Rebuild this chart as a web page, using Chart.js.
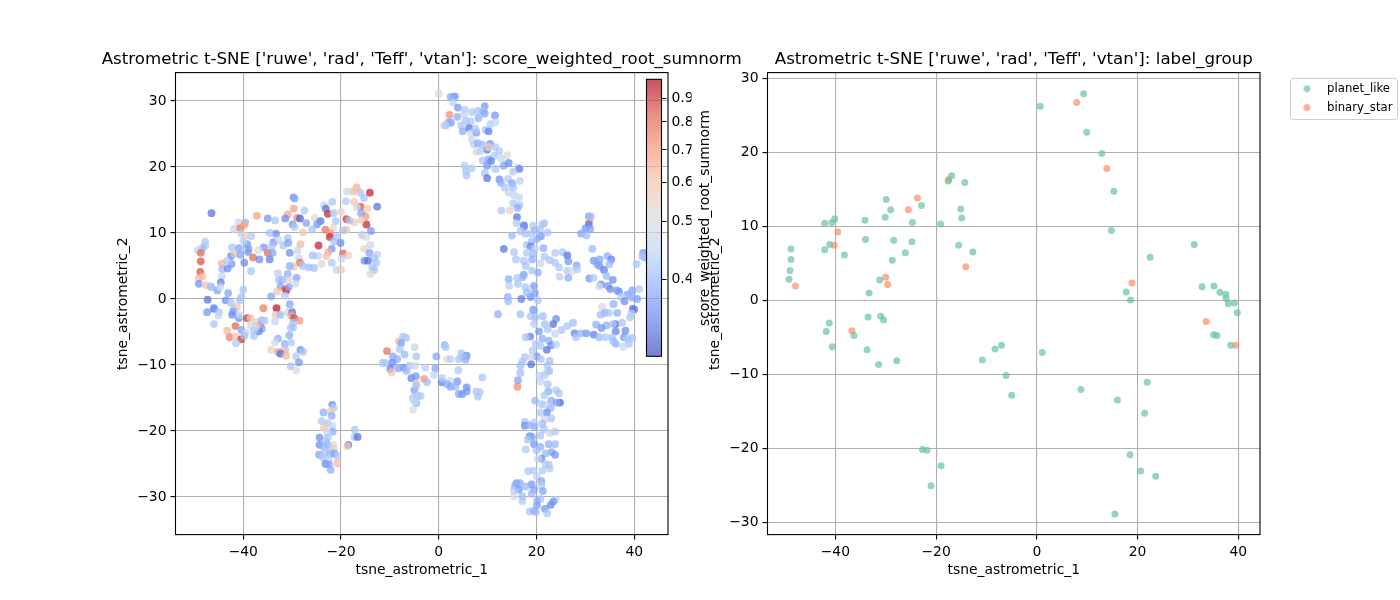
<!DOCTYPE html>
<html>
<head>
    <title>Astrometric t-SNE</title>
    <script src="https://cdn.jsdelivr.net/npm/chart.js@4/dist/chart.umd.js"></script>
    <style>
        body { margin: 0; background: #fff; }
        canvas { position: absolute; left: 0; top: 0; }
    </style>
</head>
<body>
    <canvas id="leftChart" width="1400" height="600"></canvas>
    <canvas id="cbarChart" width="1400" height="600"></canvas>
    <canvas id="rightChart" width="1400" height="600"></canvas>
    <script>
        // left panel: x, y and score of each star, same order in all three
        const scoreX = [
            -46.5,-37.2,-35,-33.5,-41,-41.9,-39.6,-40.6,-39.8,-29.7,
            -29.5,-29.7,-27.5,-30.9,-31.4,-29,-28.4,-29.9,-29.5,-27.1,
            -25.4,-24.2,-24.9,-25.9,-23.5,-23.1,-21.8,-22.7,-21.5,-21.6,
            -18.9,-15,-16,-14.6,-12.6,-14.1,-16,-15.3,-16.8,-17.5,
            -18.8,-19,-17.3,-16.8,-15.9,-17.3,-18.3,-14.8,-15.9,-20,
            -21.1,-23.2,-22.2,-22.3,-27.8,-33.3,-34.6,-30.9,-31.8,-30.8,
            -33.8,-32.7,-34.2,-35.8,-36.9,-35,-34,-30.5,-28.3,-28.9,
            -24.6,-20.9,-21.5,-20.1,-21.9,-19.6,-18.5,-22.6,-23,-24.7,
            -25.8,-19.8,-14,-15.3,-14.2,-12.6,-13.2,-15.2,-14.5,-12.8,
            -13.6,-13.2,-14,-15.7,-13.9,-14.8,-18.9,-19.6,-28.6,-28.4,
            -29.7,-27.8,-26.6,-25.5,-24,-21.9,-20.9,-20,-30.5,
            -47.8,-47.8,-48.4,-49.3,-48.7,-48.7,-48.8,-48.3,-49.1,-49.1,
            -47.7,-46.7,-44.4,-44.3,-43.2,-42.4,-42.5,-43.3,-42.3,-41.8,
            -40.9,-40.6,-39.8,-39.2,-38.9,-40,-40.4,-38.4,-39.6,-39,
            -38,-36.7,-34.6,-38.4,-44.4,-44.6,-46.5,-47.3,-45.3,-46,
            -44.7,-43.1,-43.6,-42.5,-41.9,-41.3,-40.4,-40,-40.7,-32.9,
            -30.9,-32.7,-29.1,-30.7,-32,-32.4,-29.3,-31.4,-31.2,-30.7,
            -33.1,-31.5,-34.3,
            -46,-47.4,-46,-45,-45.1,-42.1,-42.3,-40.9,-40.7,-39.2,
            -38.5,-35.9,-33.2,-33.4,-32.4,-30.5,-33.5,-30.9,-30,-30.2,
            -29.6,-28.5,-29.8,-29.8,-30.3,-30.6,-41.6,-40.4,-39.5,-43.3,
            -42.8,-41.5,-40.4,-41.5,-39.8,-37.8,-38.5,-37.3,-36.5,-36.2,
            -35.6,-36.2,-36.8,-37.8,-37.3,-32.9,-33.5,-31.5,-30.2,-31.4,
            -34.3,-32.9,-31.7,-32.4,-31.2,-28.3,-27.7,-29.2,-28.6,-30.3,-29.2,
            -21.8,-21.5,-23.6,-22.1,-21.9,-24,-22.7,-21.8,-23.5,-21.7,
            -22.8,-24.4,-22.7,-23.1,-21.5,-24.4,-22.8,-23.5,-22.3,-21.5,
            -24.5,-23.4,-22.2,-21.4,-20.8,-23.7,-22.5,-23.2,-22.5,-20.8,-22.1,
            -17.2,-17.2,-16.6,-18.5,-18.7,
            -10.6,-8.2,-7.3,-6.7,-7.7,-8,-7,-9.4,-8.5,-11.5,
            -10.9,-9.5,-9.9,-9.6,-7.1,-8.2,-6.6,-6,-4.9,-4.9,
            -4.6,-5.6,-4.7,-4.6,-5,-4.6,-4.3,-5.3,-4.6,-5,-5.3,
            0,2.9,3.3,2.4,2.9,3.9,5.3,2.2,3.8,5.2,
            6.8,8,9.4,9,9.4,11.5,8.1,6.5,5.5,2,
            2.5,1.1,1.5,4.6,4.9,6.2,6.5,7.7,7.5,9.6,
            10.2,10.6,11.6,6.8,7.2,8,8.9,10.5,11.6,7.7,
            8.4,9.9,10.2,12.4,14,12.8,11.4,9,10.2,10.7,
            9.9,13.3,14.3,11.6,16.1,16.5,15.2,5.3,6.7,5.6,
            5.7,9.4,9.9,12.4,12.7,14.2,15,16.6,13.5,15.2,
            14.3,15.4,16.5,15.2,16.5,16.1,12.8,14.5,
            16,15.9,17.4,17.5,19.3,21.6,21.2,20.7,19.6,16.7,
            17.7,18.9,15,22.3,20.9,20.1,19,18,18.8,13.3,
            21.4,19.7,15.4,18,19.3,15.8,17.4,19.1,21.6,20.8,
            22.7,23.8,25.3,26.3,26.5,23.8,24.6,17.8,20.3,19.1,
            17.4,17.1,14.3,16,14.4,16.2,24.7,26.3,27.2,28.2,
            28.3,26.5,14.1,14.2,16.9,18.8,17.7,19,19.5,18,
            19.7,20.3,19.3,30.7,31.1,30.8,30.7,30,31,29.1,
            30.2,31.4,41.8,42.1,41.6,40.5,31.7,32.9,34.5,35.3,
            34.9,32.9,33.8,32.4,34.3,30.8,31.7,35.6,33.2,32.8,
            34.6,35.1,36.5,36.9,39.6,41,38.6,37.4,39.6,40.6,
            38,35.8,39.7,33.4,
            35.7,34,33.1,36.5,34.8,40,39.4,39.1,36.2,35.6,
            37.5,32.2,34.3,33.3,36.2,27.5,26.3,25.1,23.8,27.8,
            29.1,30.2,31.7,28.1,32.8,34.1,35.5,38.2,37.9,38.6,
            39.6,38.9,37.7,36.2,35.7,
            12.1,16.7,18.8,19.5,21.3,19.8,24,23.4,21.7,19.5,
            22.3,20.5,18.7,17.8,21.2,22.5,23,24,19.8,22.1,
            20.8,19.2,20.1,17.6,18.9,17.1,20.9,22.7,22.2,18.9,
            16.7,22.2,22.6,16.7,20.6,21.7,16.2,16.1,22.3,20.9,
            22.4,24,24.6,21.6,19.7,23,24.8,24.1,21.6,20.9,
            22.9,22.1,20.8,23,21.6,21.2,17.6,17.6,19.5,18.4,
            19.6,21.5,22.7,23.8,18.6,19.1,20.8,18.2,19.5,22.5,
            23.8,20.8,17.8,20,23.1,23.8,21.9,21,20.3,22.5,
            21.8,22.7,21.2,18.3,19.3,20.1,21,15.9,16.6,19,
            17.8,21,15.6,16.4,21.3,19.5,15.4,15.4,17.1,19,
            20.8,17.1,20.1,23.9,23.4,22.9,21.7,20.1,18.6,19.9,19.5,22.2,
            1.2,1.4,-.5,1.7,2.4,4.6,5.7,4.8,4.1,5.5,
            -2.8,-.7,-1,4,-3,-2.4,.6,.7,2.3,3.8,
            1.7,2.4,3.4,5.7,8.9,4.1,4.8,5.7,7.7,8.4,8,-3.7
        ];
        const scoreY = [
            13,12.6,12.2,11.9,11.6,10.6,11.6,10.7,11.2,15.4,
            15.2,13.7,13.4,12.8,12.2,12.3,12.2,11.3,10.9,11.5,
            12.3,11.8,11.3,10.5,14.2,13.7,14.7,12.9,13,10.8,
            12.1,12.5,14,13.7,14,16.1,16.1,15.3,16.9,16.3,
            16.3,14.8,14.7,13.9,13,11.6,11.9,11.3,12,13.2,
            11.8,10.5,10,9.4,10.1,9.9,10,9.2,8.1,8.5,
            8.6,8.9,8,7.8,7.4,7,7,7,8.3,7.4,
            8.1,9.4,8.7,8.5,7.6,6.9,6.6,7.1,6.5,6.5,
            6.6,6.1,8.2,7.6,7,6.7,6.2,5.8,5.8,5.5,
            4.8,4.4,3.8,9.7,10.3,9.4,10.5,10.4,6.2,5.5,
            4.9,5,4.8,4.7,5.3,5.5,4.4,4.4,5,
            8.7,8.1,7.7,7.4,7,5.7,4.1,3.4,3.1,2.3,
            2.1,1.9,5.4,4.5,4.6,5.3,6.5,5.8,7.8,6.8,
            7.7,6.7,5.5,8.3,7.6,8.8,9.9,9.5,9.6,7.1,
            6.3,6,6,4.2,3.5,2.5,1.8,-.1,1.3,-1.4,
            1.8,.9,-.2,-.6,-1.5,-1.2,.3,1.4,-.2,3.9,
            3.8,2.9,3.2,2.9,2.9,1.9,2.3,1.5,1.3,1.8,
            1.1,.5,.4,
            -1.5,-2,-3.8,-2,-2.5,-1.9,-2.4,-2.9,-2.4,-2.9,
            -2.9,-1.4,-1.4,-2.4,-2.4,-.8,-3.4,-2,-2,-2.5,
            -2.9,-3.3,-3.6,-4.3,-4.4,-5.5,-4.1,-4.7,-5.1,-4.8,
            -5.8,-5.7,-6.1,-6.7,-5.6,-5.6,-4,-3.5,-4,-3.2,
            -3.3,-4.5,-4.9,-4.8,-4.2,-6,-6.6,-6.8,-6.6,-7.7,
            -7.7,-8,-7.7,-8.3,-8.6,-7.7,-8,-8.7,-9.6,-10.2,-10.8,
            -16,-16.5,-17.2,-17,-17.7,-18.5,-18.8,-19.2,-19.5,-20.1,
            -20.2,-21,-21,-21.5,-22.1,-22.1,-22.1,-22.5,-22.9,-22.7,
            -23.6,-23.4,-23.5,-23.4,-23.8,-24,-24.5,-25,-25.1,-24.9,-25.9,
            -19.8,-20.9,-20.9,-22.1,-22.3,
            -7.9,-6.4,-5.7,-5.9,-6.7,-7.6,-8.4,-8.7,-9.1,-9.7,
            -9.7,-9.7,-10.6,-11.1,-10.4,-10.5,-10.9,-10.1,-10.1,-7.3,
            -8.7,-12,-11.7,-12.8,-13.8,-13.1,-14.7,-15,-15.8,-15.5,-16.8,
            31.1,30.6,30.7,30.6,29.8,29,28.7,27.9,27.6,28,
            28.3,28.5,29.2,28.5,28.1,27.8,27.4,26.9,27,26.8,
            26.7,26.3,26.3,26.3,25.4,25.9,25.1,25.2,25.8,25.6,
            25.4,26.5,26.8,24.1,23.4,23.6,23.4,23.5,23,22.3,
            22.4,22.6,23,22.4,21.8,21.3,21.7,21,21.2,20.9,
            20.2,20.2,20.6,19.7,19.9,19.7,19.3,20.2,19.8,19.3,
            18.7,19.1,18.3,18.1,17.6,18.2,17.5,17.9,16.9,16.8,
            16.1,15.7,15.4,14.5,14.2,13.8,13.4,13.4,
            12.4,11.5,11.2,11,11.1,11.5,11.3,10.5,10.4,10.3,
            9.9,9.9,9.6,10.1,9.5,9.1,8.7,8.2,8,7.6,
            7.7,7.6,7.1,7,6.9,6,5.8,6,6.4,5.4,
            5.9,7,7.1,6.6,5.7,5.5,4.8,5,4,4.3,
            3.7,3.3,3,3.2,2,2.3,3.4,4.3,4.2,5.1,
            4.5,3.2,.3,-.35,0,.3,1.8,1.6,2,1,
            .9,-.2,-1.6,12.5,12.5,11.7,11.3,10.7,10.6,9.9,
            9.6,7.6,7,6.3,6.5,5.3,5.8,6,6.5,6,
            5.3,5,4.4,5.3,3.5,3.1,3.2,2.9,2.2,1.9,
            2,1.5,1.3,1.1,1.3,1.5,.7,.3,.2,0,
            -.35,-.75,-1.5,-1.2,
            -.8,-2.1,-2.4,-2.1,-2.1,-1.6,-2.2,-2.8,-3.8,-3.8,
            -3.6,-3.9,-4,-4.4,-4.9,-3.6,-4.1,-4.7,-5.3,-5.2,
            -5.2,-5.2,-5.4,-5.8,-5.8,-5.8,-5.8,-4.8,-5.8,-6,
            -5.9,-6.8,-7.2,-6.8,-6.4,
            -2.3,-2.3,-2.6,-1.7,-2.6,-2.8,-3,-3.8,-3.8,-3.8,
            -4.6,-4.9,-5.7,-5.8,-6,-6.3,-7,-6.9,-6.8,-7.7,
            -7.1,-7.8,-8.7,-8.8,-8.8,-9.5,-9.1,-9.4,-10.1,-9.9,
            -10.1,-11,-10.9,-11.2,-11.6,-11.5,-12.3,-13.3,-12.9,-12.5,
            -14,-13.8,-14.3,-14.6,-15.4,-15.4,-15.7,-15.7,-16,-15.9,
            -16.5,-17.2,-17.2,-18.1,-18.2,-18.9,-18.6,-19.2,-18.7,-19.1,
            -19.4,-19.7,-20.3,-20.1,-20.8,-20.9,-20.7,-21.3,-22,-22,
            -22,-22.4,-22.8,-22.9,-23.2,-23.6,-23.4,-24.2,-24.2,-25.1,
            -25,-25.7,-26,-26.1,-26,-26.9,-27.6,-27.9,-27.9,-28.1,
            -28.4,-28.3,-28.3,-28.9,-29.1,-28.9,-29,-29.9,-29.9,-29.5,
            -30.3,-30.6,-30.6,-30.4,-30.7,-31.2,-31.8,-31.3,-32.2,-32.3,-32.1,-32.5,
            -7,-7.3,-8.7,-9.1,-9.1,-8.2,-8.6,-8.8,-9.1,-9.2,
            -10.4,-10.5,-11.5,-10.8,-12.1,-12.6,-12.6,-12,-12.4,-12.5,
            -12.9,-13.3,-13.3,-13.4,-11.9,-14.4,-14.4,-14,-14,-14.1,-14.8,-14.7
        ];
        const scoreV = [
            .34,.68,.37,.42,.46,.46,.4,.78,.68,.36,
            .39,.68,.43,.66,.36,.72,.33,.37,.43,.38,
            .52,.34,.37,.42,.46,.34,.42,.92,.42,.52,
            .9,.7,.85,.58,.34,.93,.42,.42,.65,.62,
            .47,.43,.6,.48,.38,.58,.42,.92,.58,.55,
            .42,.78,.7,.92,.6,.36,.42,.42,.42,.38,
            .37,.46,.42,.37,.5,.8,.38,.36,.62,.46,
            .93,.42,.42,.36,.37,.82,.56,.65,.6,.46,
            .41,.47,.47,.55,.38,.44,.42,.36,.34,.42,
            .42,.42,.54,.43,.37,.52,.6,.42,.47,.78,
            .6,.42,.41,.41,.52,.43,.45,.58,.39,
            .43,.43,.4,.45,.8,.85,.85,.6,.63,.37,
            .6,.42,.64,.4,.36,.37,.35,.43,.42,.58,
            .38,.38,.36,.37,.38,.44,.44,.43,.56,.37,
            .8,.36,.35,.42,.45,.35,.42,.34,.38,.37,
            .48,.38,.36,.42,.43,.58,.42,.42,.42,.44,
            .39,.41,.38,.55,.4,.38,.47,.8,.9,.38,
            .6,.43,.38,
            .36,.37,.42,.42,.46,.38,.36,.36,.45,.9,
            .6,.76,.95,.58,.4,.38,.45,.48,.34,.68,
            .88,.7,.42,.42,.42,.39,.8,.38,.46,.62,
            .75,.6,.9,.43,.42,.42,.47,.58,.75,.4,
            .43,.38,.35,.42,.46,.39,.48,.39,.43,.42,
            .56,.7,.6,.34,.63,.36,.42,.43,.37,.42,.5,
            .36,.43,.39,.58,.39,.43,.43,.45,.6,.39,
            .46,.36,.42,.42,.5,.36,.4,.4,.42,.55,
            .38,.43,.4,.38,.42,.42,.44,.36,.38,.62,.39,
            .42,.42,.34,.34,.6,
            .78,.6,.42,.42,.38,.42,.4,.38,.39,.42,
            .42,.36,.35,.6,.36,.38,.4,.43,.46,.46,
            .42,.35,.37,.58,.38,.42,.42,.42,.4,.46,.49,
            .53,.39,.37,.39,.44,.37,.43,.72,.39,.46,
            .43,.42,.37,.41,.38,.37,.39,.42,.42,.39,
            .38,.47,.43,.42,.39,.34,.5,.38,.42,.42,
            .35,.43,.45,.47,.44,.39,.41,.37,.43,.5,
            .44,.35,.56,.43,.53,.46,.43,.42,.39,.35,
            .37,.38,.36,.42,.46,.35,.43,.43,.43,.42,
            .42,.42,.34,.36,.39,.43,.38,.44,.42,.42,
            .45,.46,.46,.43,.42,.39,.42,.56,
            .34,.43,.36,.36,.43,.42,.42,.42,.4,.42,
            .42,.42,.4,.42,.37,.39,.41,.42,.36,.34,
            .39,.45,.42,.43,.4,.42,.42,.39,.43,.46,
            .42,.43,.42,.34,.37,.42,.42,.42,.39,.42,
            .38,.39,.39,.43,.44,.42,.44,.43,.5,.38,
            .43,.39,.39,.41,.35,.36,.42,.47,.38,.4,
            .38,.42,.38,.38,.41,.66,.34,.37,.38,.38,
            .41,.4,.37,.39,.42,.42,.37,.38,.39,.35,
            .4,.37,.35,.38,.4,.37,.43,.36,.36,.48,
            .37,.36,.37,.37,.38,.43,.38,.43,.39,.38,
            .36,.42,.34,.49,
            .42,.39,.41,.39,.42,.35,.43,.43,.34,.42,
            .42,.39,.39,.37,.35,.41,.42,.43,.46,.35,
            .4,.37,.35,.42,.4,.43,.42,.36,.37,.43,
            .42,.42,.45,.39,.41,
            .39,.41,.42,.39,.41,.41,.36,.34,.41,.43,
            .42,.37,.35,.42,.39,.39,.36,.44,.43,.34,
            .42,.43,.37,.42,.47,.42,.42,.41,.42,.34,
            .41,.5,.41,.41,.44,.43,.38,.72,.42,.45,
            .39,.42,.42,.43,.4,.39,.33,.38,.45,.43,
            .4,.36,.43,.42,.47,.41,.42,.36,.43,.39,
            .39,.42,.47,.43,.36,.38,.42,.42,.37,.39,
            .4,.39,.43,.42,.38,.37,.4,.36,.46,.42,
            .43,.43,.43,.43,.43,.44,.38,.37,.39,.37,
            .4,.43,.39,.37,.38,.38,.43,.49,.41,.4,
            .42,.43,.39,.43,.37,.36,.37,.38,.42,.43,.39,.43,
            .39,.43,.38,.53,.44,.42,.36,.42,.42,.39,
            .44,.38,.45,.43,.72,.41,.35,.43,.5,.37,
            .39,.38,.4,.36,.42,.38,.37,.37,.42,.43,.42,.43
        ];

        // right panel
        const planetX = [-16.9,-17.6,-14.3,-29.9,-29,-22.9,-30.1,-15.1,-14.9,-24.7,-19.1,-34.1,-40.1,-40.7,-42.1,-34,-28.4,-24.8,-41.1,-42.1,-38.2,-48.8,-48.8,-49,-49.2,-15.5,-12.7,-26.1,-28.7,-31.2,-33.3,
            -41.2,-41.8,-40.6,-36.3,-33.5,-31,-30.4,-33.7,-31.4,-27.8,-10.8,-8.3,-7,-6.1,-5,-22.7,-21.8,-19,-21,
            9.3,.67,9.9,12.9,15.3,14.8,31.25,22.5,32.8,35.15,36.35,37.5,37.6,38,39.2,39.8,17.75,18.6,35.1,35.75,38.5,1.07,21.9,8.75,16,21.4,18.5,20.6,23.6,15.5];
        const planetY = [16.9,16.2,16,13.7,12.3,12.9,11.3,12.4,11.2,10.6,10.4,10.9,11.1,10.6,10.5,8.3,8.2,8,7.6,6.9,6.2,7,5.6,4.1,2.9,7.5,6.6,6.5,5.5,2.8,1.05,
            -3,-4.15,-6.2,-4.7,-2.2,-2.1,-2.6,-6.6,-8.6,-8.1,-8,-6.5,-6,-10.1,-12.75,-20.1,-20.2,-22.3,-25,
            28,26.3,22.8,19.9,14.8,9.5,7.6,5.9,1.9,2,1.15,.9,.3,-.4,-.3,-1.6,1.2,.1,-4.6,-4.7,-6,-7,-11,-12,-13.4,-15.2,-20.8,-23,-23.7,-28.8];
        const binaryX = [-17.5,-23.7,-25.5,-39.5,-40.2,-14.1,-30,-29.6,-47.9,-36.7,7.9,13.9,18.9,33.6,39.5];
        const binaryY = [16.4,13.9,12.3,9.3,7.5,4.6,3.2,2.2,2,-4.05,26.8,17.9,2.4,-2.8,-6];

        // axes
        const leftXTicks = [-40, -20, 0, 20, 40];
        const leftYTicks = [-30, -20, -10, 0, 10, 20, 30];
        const rightXTicks = [-40, -20, 0, 20, 40];
        const rightYTicks = [-30, -20, -10, 0, 10, 20, 30];

        // colorbar: value -> position on the bar, the scale is not linear
        const cbarValues = [0.31, 0.4, 0.5, 0.6, 0.7, 0.8, 0.9, 0.98];
        const cbarPositions = [0, 0.279, 0.488, 0.629, 0.745, 0.846, 0.93, 1];
        const cbarTickLabels = ['0.4', '0.5', '0.6', '0.7', '0.8', '0.9'];

        const coolwarm = [[59,76,192],[98,130,234],[141,176,254],[192,212,245],[221,220,220],[245,196,173],[244,152,123],[222,96,77],[180,4,38]];

        Chart.defaults.font.family = '"DejaVu Sans"';
        Chart.defaults.font.size = 13.9;
        Chart.defaults.color = '#000';
        Chart.defaults.animation = false;

        function coolwarmColor(t, alpha) {
            const p = Math.min(Math.max(t, 0), 1) * (coolwarm.length - 1);
            const i = Math.min(Math.floor(p), coolwarm.length - 2);
            const f = p - i;
            const c = [0, 1, 2].map(k => Math.round(coolwarm[i][k] + (coolwarm[i + 1][k] - coolwarm[i][k]) * f));
            return 'rgba(' + c[0] + ',' + c[1] + ',' + c[2] + ',' + alpha + ')';
        }

        function valueToPos(v) {
            for (let i = 0; i < cbarValues.length - 1; i++) {
                if (v <= cbarValues[i + 1]) {
                    const f = (v - cbarValues[i]) / (cbarValues[i + 1] - cbarValues[i]);
                    return cbarPositions[i] + (cbarPositions[i + 1] - cbarPositions[i]) * f;
                }
            }
            return 1;
        }

        function toPoints(xs, ys) {
            return xs.map((x, i) => ({ x: x, y: ys[i] }));
        }

        function minusLabel(v) {
            return v < 0 ? '\u2212' + Math.abs(v) : String(v);
        }

        // small round marker for the legend, drawn on its own canvas so the
        // legend can keep the wide gap between marker and text
        function legendMarker(color) {
            const m = document.createElement('canvas');
            m.width = 9;
            m.height = 9;
            const c = m.getContext('2d');
            c.fillStyle = color;
            c.beginPath();
            c.arc(4.5, 4.5, 3.4, 0, Math.PI * 2);
            c.fill();
            return m;
        }

        // fixed size axis with ticks from a list, matplotlib look
        function axis(ticks, min, max, label, size, isX) {
            return {
                type: 'linear',
                min: min,
                max: max,
                afterBuildTicks: s => { s.ticks = ticks.map(v => ({ value: v })); },
                afterFit: s => { if (isX) s.height = size; else s.width = size; },
                grid: { color: '#b0b0b0', lineWidth: 1.1, tickColor: '#000', tickLength: 5, tickWidth: 1.1 },
                border: { display: false },
                ticks: { callback: minusLabel, autoSkip: false, maxRotation: 0, padding: 4 },
                title: { display: true, text: label, padding: 0 }
            };
        }

        // black box around the plot + the title which is wider than the plot
        function framePlugin(title) {
            return {
                id: 'frame',
                afterDraw(chart) {
                    const a = chart.chartArea, c = chart.ctx;
                    c.save();
                    c.strokeStyle = '#000';
                    c.lineWidth = 1.1;
                    c.strokeRect(a.left, a.top, a.right - a.left, a.bottom - a.top);
                    if (title) {
                        c.fillStyle = '#000';
                        c.font = '16.67px "DejaVu Sans"';
                        c.textAlign = 'center';
                        c.textBaseline = 'alphabetic';
                        c.fillText(title, (a.left + a.right) / 2, 64);
                    }
                    c.restore();
                }
            };
        }

        new Chart(document.getElementById('leftChart'), {
            type: 'scatter',
            data: {
                datasets: [{
                    data: toPoints(scoreX, scoreY),
                    pointRadius: 3.9,
                    pointBorderWidth: 0,
                    pointBackgroundColor: scoreV.map(v => coolwarmColor(valueToPos(v), 0.75))
                }]
            },
            options: {
                responsive: false,
                layout: { padding: { left: 114.7, top: 72.6, right: 732, bottom: 21.4 } },
                scales: {
                    x: axis(leftXTicks, -53.87, 46.9, 'tsne_astrometric_1', 44, true),
                    y: axis(leftYTicks, -35.7, 34.3, 'tsne_astrometric_2', 60.8, false)
                },
                plugins: { legend: { display: false }, tooltip: { enabled: false } }
            },
            plugins: [framePlugin("Astrometric t-SNE ['ruwe', 'rad', 'Teff', 'vtan']: score_weighted_root_sumnorm")]
        });

        // colorbar is a single floating bar filled with the colormap
        new Chart(document.getElementById('cbarChart'), {
            type: 'bar',
            data: {
                labels: [''],
                datasets: [{
                    data: [[0, 1]],
                    barPercentage: 1,
                    categoryPercentage: 1,
                    backgroundColor: ctx => {
                        const a = ctx.chart.chartArea;
                        if (!a) return 'transparent';
                        const g = ctx.chart.ctx.createLinearGradient(0, a.bottom, 0, a.top);
                        for (let i = 0; i <= 16; i++) g.addColorStop(i / 16, coolwarmColor(i / 16, 0.7));
                        return g;
                    }
                }]
            },
            options: {
                responsive: false,
                layout: { padding: { left: 646.5, top: 79.3, right: 708.5, bottom: 243.7 } },
                scales: {
                    x: { display: false },
                    y: {
                        position: 'right',
                        min: 0,
                        max: 1,
                        afterBuildTicks: s => { s.ticks = cbarValues.slice(1, -1).map((v, i) => ({ value: cbarPositions[i + 1], label: cbarTickLabels[i] })); },
                        afterFit: s => { s.width = 30; },
                        grid: { drawOnChartArea: false, tickColor: '#000', tickLength: 5, tickWidth: 1.1 },
                        border: { display: false },
                        ticks: {
                            autoSkip: false,
                            padding: 5,
                            callback: function (v, i) { return cbarTickLabels[i]; }
                        }
                    }
                },
                plugins: { legend: { display: false }, tooltip: { enabled: false } }
            },
            plugins: [framePlugin(null), {
                id: 'cbarLabel',
                afterDraw(chart) {
                    const c = chart.ctx;
                    c.save();
                    c.translate(705, 218);
                    c.rotate(-Math.PI / 2);
                    c.fillStyle = '#000';
                    c.font = '13.9px "DejaVu Sans"';
                    c.textAlign = 'center';
                    c.textBaseline = 'middle';
                    c.fillText('score_weighted_root_sumnorm', 0, 0);
                    c.restore();
                }
            }]
        });

        const legendMarkers = [legendMarker('rgba(102,194,165,0.7)'), legendMarker('rgba(252,141,98,0.7)')];

        new Chart(document.getElementById('rightChart'), {
            type: 'scatter',
            data: {
                datasets: [
                    { label: 'planet_like', data: toPoints(planetX, planetY), pointRadius: 3.5, pointBorderWidth: 0, pointBackgroundColor: 'rgba(102,194,165,0.7)' },
                    { label: 'binary_star', data: toPoints(binaryX, binaryY), pointRadius: 3.5, pointBorderWidth: 0, pointBackgroundColor: 'rgba(252,141,98,0.7)' }
                ]
            },
            options: {
                responsive: false,
                layout: { padding: { left: 706.7, top: 72.6, right: 140, bottom: 21.4 } },
                scales: {
                    x: axis(rightXTicks, -53.46, 44.3, 'tsne_astrometric_1', 44, true),
                    y: axis(rightYTicks, -31.6, 30.85, 'tsne_astrometric_2', 60.8, false)
                },
                plugins: {
                    tooltip: { enabled: false },
                    legend: {
                        position: 'chartArea',
                        align: 'start',
                        labels: {
                            usePointStyle: true,
                            pointStyleWidth: 28.4,
                            boxHeight: 7,
                            padding: 7,
                            font: { size: 11.7 },
                            generateLabels: chart => {
                                const items = Chart.defaults.plugins.legend.labels.generateLabels(chart);
                                items.forEach((item, i) => { item.pointStyle = legendMarkers[i]; });
                                return items;
                            }
                        }
                    }
                }
            },
            plugins: [framePlugin("Astrometric t-SNE ['ruwe', 'rad', 'Teff', 'vtan']: label_group"), {
                id: 'legendBox',
                afterLayout(chart) {
                    // legend sits outside the plot, up right
                    const l = chart.legend;
                    const w = l.right - l.left, h = l.bottom - l.top;
                    l.left = 1285.8; l.right = 1285.8 + w; l.top = 76; l.bottom = 76 + h;
                },
                afterDraw(chart) {
                    const c = chart.ctx;
                    c.save();
                    c.strokeStyle = '#ccc';
                    c.lineWidth = 1;
                    c.beginPath();
                    c.roundRect(1290.5, 78.5, 107, 41, 3);
                    c.stroke();
                    c.restore();
                }
            }]
        });
    </script>
</body>
</html>
